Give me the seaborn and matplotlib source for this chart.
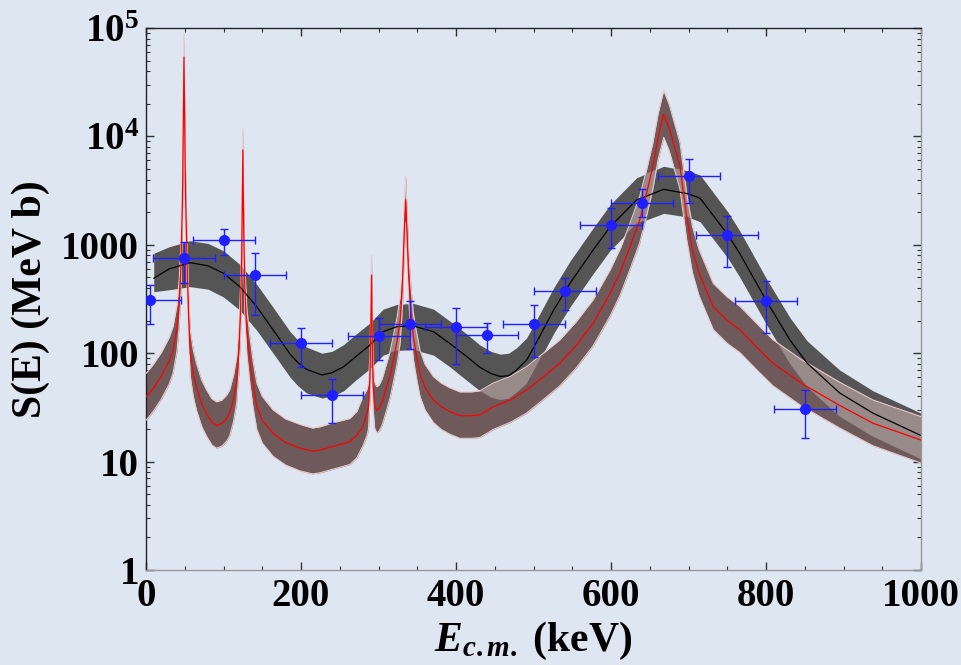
import matplotlib
matplotlib.use('Agg')
import matplotlib.pyplot as plt
from matplotlib.ticker import MultipleLocator, LogLocator, NullFormatter
import seaborn as sns

# Цвета
bg = '#dde6f1'
dark_band = '#555555'
brown_band = '#6e5a5a'
overlap_band = '#978a89'

# Модель 1 (чёрная линия, серая полоса)
e_black = [10, 30, 57, 80, 100, 121, 143, 164, 186, 196, 207, 227, 240, 255, 270, 289, 306,
           324, 345, 371, 392, 414, 431, 445, 457, 468, 478, 491, 500, 526, 547, 577, 599,
           633, 668, 700, 715, 751, 766, 801, 831, 853, 895, 938, 1000]
s_black = [491, 600, 684, 640, 546, 411, 268, 164, 98, 82, 71, 63, 66, 75, 92, 119, 158,
           176, 178, 158, 123, 93, 74, 65, 61, 62, 70, 86, 112, 250, 441, 896, 1469,
           2590, 3250, 2950, 2690, 1233, 835, 300, 132, 81, 43, 28, 17.4]
s_black_hi = [835, 960, 1090, 1030, 880, 660, 430, 265, 158, 132, 114, 100, 104, 120, 148, 190,
              255, 282, 288, 255, 198, 150, 119, 104, 98, 100, 112, 138, 180, 400, 705, 1430,
              2350, 4150, 5300, 4800, 4400, 2000, 1350, 480, 212, 130, 70, 45, 28]
s_black_lo = [369, 385, 411, 390, 330, 250, 162, 100, 60, 50, 43, 38.6, 40, 45, 56, 72,
              96, 106, 108, 96, 75, 56, 45, 39, 37, 38, 43, 52, 68, 152, 267, 543,
              890, 1570, 1950, 1800, 1630, 750, 505, 182, 80, 49, 26, 17, 10.5]

# Модель 2 (красная линия, коричневая полоса)
e_red = [0, 10, 20, 30, 35, 40, 43, 45, 47, 48, 49, 50, 51, 53, 55, 57, 61, 65, 72, 78,
         85, 91, 98, 104, 108, 113, 117, 120, 122, 123.5, 125, 126, 127.5, 130, 134, 138,
         143, 150, 164, 180, 199, 215, 225, 241, 263, 272, 280, 285, 287, 289, 290, 291,
         292, 293, 295, 297.6, 301, 305, 310.6, 315, 319, 324, 328, 331, 333, 335, 337,
         339, 342, 345, 349, 353.5, 360, 370.7, 381, 392, 405, 420, 431, 448, 470, 491,
         512, 534, 555, 577, 599, 612, 624.5, 637, 646, 654, 661, 668, 675, 682, 689,
         697.6, 705, 713.5, 732, 750, 766.5, 790, 809, 846, 895, 938, 1000]
s_red = [39.5, 48, 62, 85, 107, 170, 300, 600, 2500, 10000, 54000, 12000, 3000, 700, 220,
         100, 65, 49, 34, 27.8, 23, 21.5, 22.5, 25, 28, 38, 56, 110, 250, 800, 7500, 1500,
         400, 160, 86, 52, 32, 24, 18.2, 15, 13.3, 12.5, 12.8, 13.8, 15.3, 17.5, 21, 28,
         32, 60, 150, 525, 120, 50, 33, 29.8, 31, 36, 49, 63, 86, 130, 202, 450, 1200,
         2600, 1200, 500, 240, 142, 95, 65, 48, 37, 32, 29, 26.5, 26.5, 27, 32, 37, 45.7,
         60, 80.7, 118, 189, 358, 560, 960, 1690, 3000, 5300, 10000, 16000, 12000, 8000,
         5300, 1820, 900, 550, 267, 200, 164, 110, 80.7, 52.6, 33, 22.6, 15.8]
s_red_hi = [65, 80, 102, 140, 177, 280, 500, 1000, 4100, 16500, 89000, 20000, 5000, 1150,
            360, 165, 107, 81, 56, 46, 38, 35.6, 37, 41, 46, 63, 92, 182, 410, 1320, 12000,
            2500, 660, 264, 142, 86, 53, 40, 30, 24.8, 22, 20.4, 21, 22.8, 25, 29, 40, 46,
            53, 99, 248, 800, 198, 83, 54, 49, 51, 59, 81, 104, 142, 215, 333, 743, 1980,
            4300, 1980, 825, 396, 234, 157, 107, 79, 61, 53, 48, 44, 44, 45, 53, 61, 75,
            99, 133, 195, 312, 590, 924, 1580, 2790, 4950, 8750, 16500, 26500, 19800,
            13200, 8750, 3000, 1485, 908, 440, 330, 270, 182, 133, 87, 54, 37, 26]
s_red_lo = [24, 29.5, 38, 52, 66, 105, 185, 370, 1550, 6200, 33000, 7400, 1850, 430, 136,
            62, 40, 30, 21, 17.2, 14.2, 13.3, 13.9, 15.4, 17.3, 23.5, 34.6, 68, 154, 494,
            4600, 926, 247, 99, 53, 32, 19.8, 14.8, 11.2, 9.3, 8.2, 7.7, 7.9, 8.5, 9.4,
            10.8, 14, 17.3, 19.8, 37, 93, 324, 74, 31, 20.4, 18.4, 19.1, 22, 30, 39, 53,
            80, 125, 278, 740, 1600, 740, 309, 148, 88, 59, 40, 30, 23, 19.8, 17.9, 16.4,
            16.4, 16.7, 19.8, 23, 28, 37, 50, 73, 117, 221, 346, 593, 1040, 1850, 3270,
            6200, 9800, 7400, 4940, 3270, 1120, 556, 340, 165, 123, 101, 68, 50, 32.5,
            20.4, 14, 9.7]

# Экспериментальные точки
e_exp = [5, 49, 100, 140, 200, 240, 300, 340, 400, 440, 500, 540, 600, 640, 700, 750, 800, 850]
s_exp = [310, 752, 1108, 523, 123, 41, 145, 186, 173, 147, 186, 376, 1525, 2450, 4330, 1235, 303, 30.6]
s_exp_hi = [425, 1070, 1410, 840, 169, 57.5, 210, 300, 261, 191, 277, 495, 2200, 3300, 6160, 1840, 463, 45.7]
s_exp_lo = [186, 443, 805, 226, 75, 22.7, 86, 109, 79.5, 100, 93, 251, 930, 1800, 2450, 628, 153, 16.4]
e_err = [40] * len(e_exp)

sns.set_theme(style='ticks')
plt.rcParams['font.family'] = ['Liberation Serif', 'DejaVu Serif']
plt.rcParams['font.weight'] = 'bold'
plt.rcParams['text.color'] = 'black'
plt.rcParams['axes.labelcolor'] = 'black'
plt.rcParams['mathtext.fontset'] = 'custom'
plt.rcParams['mathtext.rm'] = 'Liberation Serif:bold'
plt.rcParams['mathtext.bf'] = 'Liberation Serif:bold'
plt.rcParams['mathtext.it'] = 'Liberation Serif:bold:italic'

fig = plt.figure(figsize=(9.61, 6.65), dpi=100, facecolor=bg)
ax = fig.add_axes([146 / 961, 1 - 570 / 665, 775 / 961, 542 / 665])
ax.set_facecolor(bg)
ax.set_yscale('log')

# Полосы
band_b = ax.fill_between(e_black, s_black_lo, s_black_hi, color=dark_band, lw=0, zorder=1)
ax.fill_between(e_red, s_red_lo, s_red_hi, color=brown_band, lw=0, zorder=2)
ov = ax.fill_between(e_red, s_red_lo, s_red_hi, color=overlap_band, lw=0, zorder=3)
ov.set_clip_path(band_b.get_paths()[0], transform=band_b.get_transform())
ax.plot(e_red, s_red_hi, color='#ecc9c9', lw=0.8, zorder=4)
ax.plot(e_red, s_red_lo, color='#ecc9c9', lw=0.8, zorder=4)

# Кривые
sns.lineplot(x=e_black, y=s_black, color='black', lw=0.9, ax=ax, sort=False, estimator=None, zorder=5)
sns.lineplot(x=e_red, y=s_red, color='red', lw=0.9, ax=ax, sort=False, estimator=None, zorder=6)

# Точки с погрешностями
yerr = [[s - lo for s, lo in zip(s_exp, s_exp_lo)], [hi - s for s, hi in zip(s_exp, s_exp_hi)]]
ax.errorbar(e_exp, s_exp, xerr=e_err, yerr=yerr, fmt='o', color='#1f1fff', ms=7,
            elinewidth=1.0, capsize=3, capthick=1.0, zorder=7, clip_on=True)

ax.set_xlim(0, 1000)
ax.set_ylim(1, 1e5)
ax.set_xticks([0, 200, 400, 600, 800, 1000])
ax.xaxis.set_minor_locator(MultipleLocator(50))
ax.set_yticks([1, 10, 100, 1000, 1e4, 1e5],
              labels=['1', '10', '100', '1000', r'$10^{4}$', r'$10^{5}$'])
ax.yaxis.set_minor_locator(LogLocator(base=10, subs=range(2, 10)))
ax.yaxis.set_minor_formatter(NullFormatter())
ax.tick_params(which='both', direction='in', top=True, right=True, labelsize=28,
               colors='#333333', labelcolor='black')
ax.tick_params(which='major', length=6, width=1)
ax.tick_params(which='minor', length=3, width=0.8)
ax.tick_params(axis='x', which='major', pad=6)
ax.tick_params(axis='y', which='major', pad=5)
for side in ['left', 'top']:
    ax.spines[side].set_color('#222222')
for side in ['right', 'bottom']:
    ax.spines[side].set_color('#999999')
for s in ax.spines.values():
    s.set_linewidth(1.0)

ax.set_xlabel(r'$\mathit{E}_{\mathit{c.m.}}$ (keV)', fontsize=30, fontweight='bold', labelpad=3)
ax.set_ylabel('S(E) (MeV b)', fontsize=30, fontweight='bold', labelpad=8)

plt.savefig('out.png', dpi=100, facecolor=bg)
